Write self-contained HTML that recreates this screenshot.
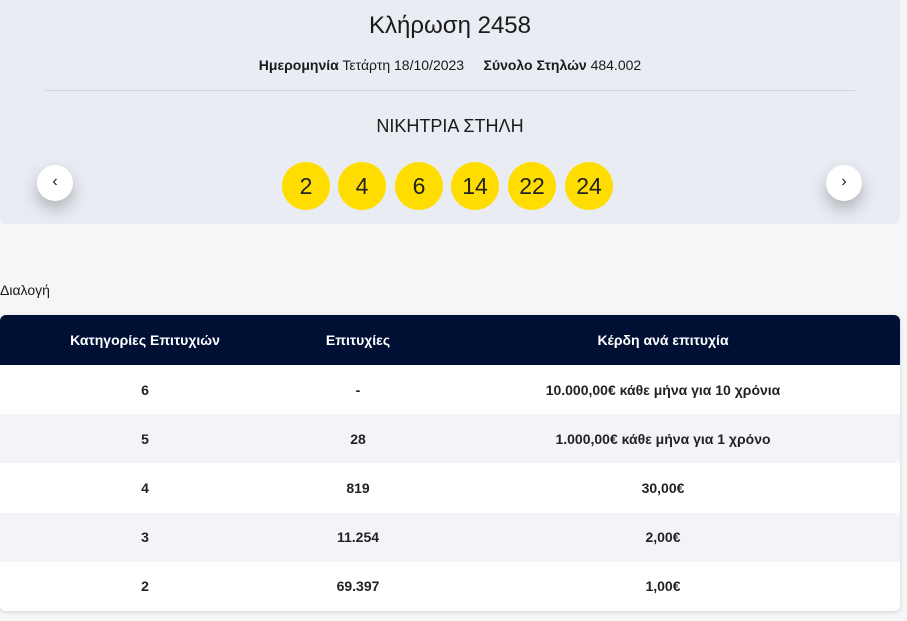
<!DOCTYPE html>
<html><head><meta charset="utf-8"><style>
*{margin:0;padding:0;box-sizing:border-box}
body{width:907px;height:621px;background:#f5f6f8;font-family:"Liberation Sans","DejaVu Sans",sans-serif;color:#1a1a1a;position:relative;overflow:hidden}
.card{position:absolute;left:0;top:0;width:900px;height:224px;background:#e9ecf3;border-radius:0 0 6px 6px}
.t{position:absolute;left:0;width:900px;text-align:center}
.ball{position:absolute;top:162px;width:48px;height:48px;border-radius:50%;background:#ffdd00;font-size:23px;line-height:48px;text-align:center;color:#222}
.arr{position:absolute;top:165px;width:36px;height:36px;border-radius:50%;background:#fff;box-shadow:0 8px 16px rgba(0,0,0,.25);text-align:center;line-height:34px;font-size:16px}
table{position:absolute;left:0;top:315px;width:900px;border-collapse:collapse;border-radius:6px;overflow:hidden;box-shadow:0 1px 4px rgba(0,0,0,.15)}
th{background:#001035;color:#fff;height:50px;font-size:14px;font-weight:bold}
td{height:49.2px;text-align:center;font-size:14px;font-weight:bold;color:#222}
tr:nth-child(even) td{background:#fff}
tr:nth-child(odd) td{background:#f3f4f7}
</style></head><body>
<div class="card">
<div class="t" style="top:12px;font-size:24px">Κλήρωση 2458</div>
<div class="t" style="top:57px;font-size:14px"><b>Ημερομηνία</b> Τετάρτη 18/10/2023 &nbsp;&nbsp;&nbsp; <b>Σύνολο Στηλών</b> 484.002</div>
<div style="position:absolute;left:45px;top:90px;width:810px;height:1px;background:#d0d4de"></div>
<div class="t" style="top:116px;font-size:18px">ΝΙΚΗΤΡΙΑ ΣΤΗΛΗ</div>
<div class="ball" style="left:282px">2</div>
<div class="ball" style="left:338px">4</div>
<div class="ball" style="left:395px">6</div>
<div class="ball" style="left:451px">14</div>
<div class="ball" style="left:508px">22</div>
<div class="ball" style="left:565px">24</div>
<div class="arr" style="left:37px">‹</div>
<div class="arr" style="left:826px">›</div>
</div>
<div style="position:absolute;left:0;top:282px;font-size:14px">Διαλογή</div>
<table>
<tr><th style="width:290px">Κατηγορίες Επιτυχιών</th><th style="width:136px">Επιτυχίες</th><th>Κέρδη ανά επιτυχία</th></tr>
<tr><td>6</td><td>-</td><td>10.000,00€ κάθε μήνα για 10 χρόνια</td></tr>
<tr><td>5</td><td>28</td><td>1.000,00€ κάθε μήνα για 1 χρόνο</td></tr>
<tr><td>4</td><td>819</td><td>30,00€</td></tr>
<tr><td>3</td><td>11.254</td><td>2,00€</td></tr>
<tr><td>2</td><td>69.397</td><td>1,00€</td></tr>
</table>
</body></html>
